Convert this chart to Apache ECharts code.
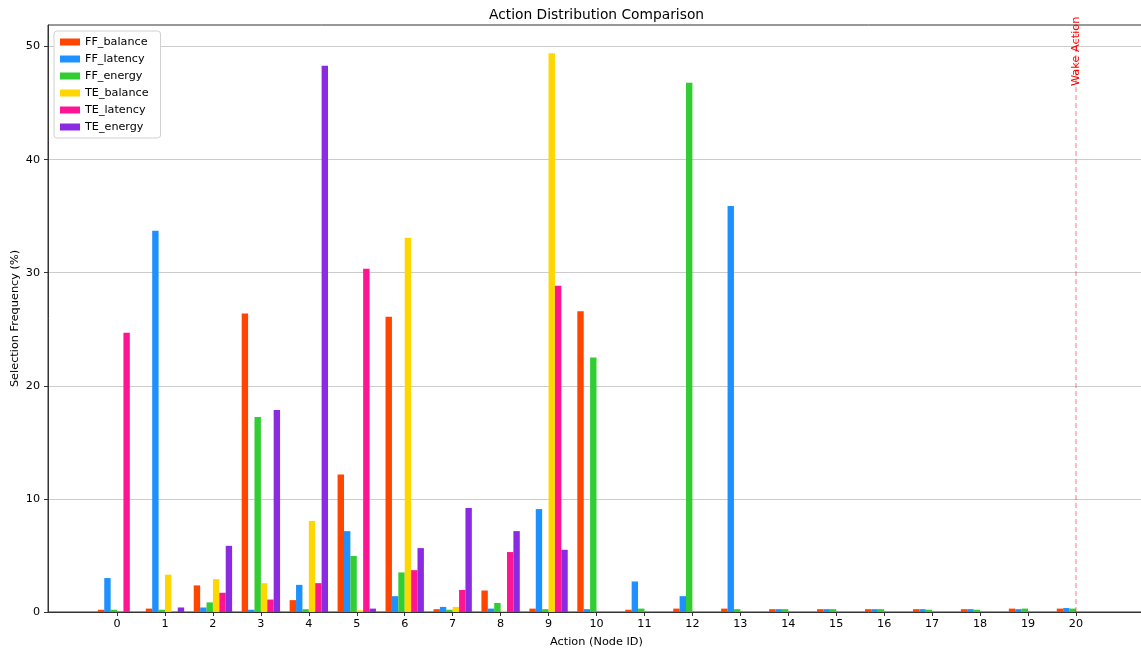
<!DOCTYPE html>
<html>
<head>
<meta charset="utf-8">
<script src="https://cdn.jsdelivr.net/npm/echarts@6/dist/echarts.min.js"></script>
<style>
  html, body { margin: 0; padding: 0; background: #fff; }
  #chart { width: 1141px; height: 653px; }
</style>
</head>
<body>
<div id="chart"></div>
<script>
// Action ids 0..20 on the x axis
const actions = [0,1,2,3,4,5,6,7,8,9,10,11,12,13,14,15,16,17,18,19,20];
const seriesNames = ['FF_balance','FF_latency','FF_energy','TE_balance','TE_latency','TE_energy'];
const seriesColors = ['#FF4500','#1E90FF','#32CD32','#FFD700','#FF1493','#8A2BE2'];

// Selection frequency (%) per action
const ffBalance = [0.2,0.3,2.35,26.4,1.05,12.15,26.1,0.25,1.9,0.3,26.6,0.2,0.3,0.3,0.25,0.25,0.25,0.25,0.25,0.3,0.3];
const ffLatency = [3.0,33.7,0.4,0.2,2.4,7.15,1.4,0.45,0.3,9.1,0.25,2.7,1.4,35.9,0.25,0.25,0.25,0.25,0.25,0.25,0.35];
const ffEnergy  = [0.2,0.2,0.85,17.25,0.25,4.95,3.5,0.2,0.8,0.25,22.5,0.3,46.8,0.25,0.25,0.25,0.25,0.2,0.2,0.3,0.3];
const teBalance = [0,3.3,2.9,2.55,8.05,0.15,33.1,0.45,0.1,49.4,0,0,0,0,0,0,0,0,0,0,0];
const teLatency = [24.7,0,1.7,1.1,2.55,30.35,3.7,1.95,5.3,28.85,0,0,0,0,0,0,0,0,0,0,0];
const teEnergy  = [0,0.4,5.85,17.85,48.3,0.3,5.65,9.2,7.15,5.5,0,0,0,0,0,0,0,0,0,0,0];

const yTicks = [0,10,20,30,40,50];
const wakeAction = 20;
const wakeLabel = 'Wake Action';

const allValues = [ffBalance, ffLatency, ffEnergy, teBalance, teLatency, teEnergy];
const groupWidth = 0.8;
const barW = groupWidth / seriesNames.length;
const yMax = 51.9;

const font = 'DejaVu Sans, sans-serif';

function barSeries(idx) {
  const offset = (idx - (seriesNames.length - 1) / 2) * barW;
  return {
    type: 'custom',
    name: seriesNames[idx],
    itemStyle: { color: seriesColors[idx] },
    data: actions.map((a, i) => [a, allValues[idx][i]]),
    encode: { x: 0, y: 1 },
    renderItem: function (params, api) {
      const x = api.value(0) + offset;
      const v = api.value(1);
      if (!v) return null;
      const p0 = api.coord([x - barW / 2, v]);
      const p1 = api.coord([x + barW / 2, 0]);
      return {
        type: 'rect',
        shape: { x: p0[0], y: p0[1], width: p1[0] - p0[0], height: p1[1] - p0[1] },
        style: { fill: seriesColors[idx] }
      };
    }
  };
}

const series = seriesNames.map((n, i) => barSeries(i));

// Dashed marker for the wake action plus its rotated caption
series.push({
  type: 'custom',
  name: 'wake',
  silent: true,
  data: [[wakeAction, 0]],
  encode: { x: 0, y: 1 },
  renderItem: function (params, api) {
    const x = api.value(0);
    const b = api.coord([x, 0]);
    const t = api.coord([x, yMax]);
    const lbl = api.coord([x, 46.5]);
    return {
      type: 'group',
      children: [
        {
          type: 'line',
          shape: { x1: b[0], y1: b[1], x2: t[0], y2: t[1] },
          style: { stroke: 'rgba(255,0,0,0.35)', lineWidth: 1.5, lineDash: [5, 3] }
        },
        {
          type: 'text',
          x: lbl[0], y: lbl[1],
          rotation: Math.PI / 2,
          style: {
            text: wakeLabel, fill: '#ff0000', font: '11.3px ' + font,
            align: 'left', verticalAlign: 'middle'
          }
        }
      ]
    };
  }
});

const chart = echarts.init(document.getElementById('chart'), null, { renderer: 'canvas' });
chart.setOption({
  animation: false,
  color: seriesColors,
  title: {
    text: 'Action Distribution Comparison',
    left: 484, top: 3,
    textStyle: { fontFamily: font, fontSize: 13.8, fontWeight: 'normal', color: '#000' }
  },
  legend: {
    data: seriesNames,
    orient: 'vertical',
    left: 54, top: 31,
    padding: [4, 12, 4, 6],
    itemWidth: 20, itemHeight: 7, itemGap: 3,
    icon: 'rect',
    backgroundColor: '#fff',
    borderColor: '#d0d0d0', borderWidth: 1, borderRadius: 3,
    textStyle: { fontFamily: font, fontSize: 11.2, color: '#000', lineHeight: 14 }
  },
  grid: {
    left: 48, right: -4, top: 25, bottom: 41,
    outerBoundsMode: 'none', containLabel: false,
    show: true, borderColor: '#333', borderWidth: 1, backgroundColor: 'transparent'
  },
  xAxis: {
    type: 'value',
    min: -1.44, max: 21.44,
    name: 'Action (Node ID)', nameLocation: 'middle', nameGap: 25,
    nameTextStyle: { fontFamily: font, fontSize: 11.3, color: '#000' },
    axisLine: { show: true, onZero: false, lineStyle: { color: '#333', width: 1 } },
    axisTick: { show: true, customValues: actions, length: 4, lineStyle: { color: '#333' } },
    axisLabel: { customValues: actions, fontFamily: font, fontSize: 11.2, color: '#000', margin: 7 },
    splitLine: { show: false }
  },
  yAxis: {
    type: 'value',
    min: 0, max: yMax,
    name: 'Selection Frequency (%)', nameLocation: 'middle', nameGap: 27,
    nameMoveOverlap: false,
    nameTextStyle: { fontFamily: font, fontSize: 11.3, color: '#000' },
    axisLine: { show: true, onZero: false, lineStyle: { color: '#333', width: 1 } },
    axisTick: { show: true, customValues: yTicks, length: 4, lineStyle: { color: '#333' } },
    axisLabel: { customValues: yTicks, fontFamily: font, fontSize: 11.2, color: '#000', margin: 8 },
    splitLine: { show: true, lineStyle: { color: '#cccccc', width: 1.2 } }
  },
  series: series
});
</script>
</body>
</html>
